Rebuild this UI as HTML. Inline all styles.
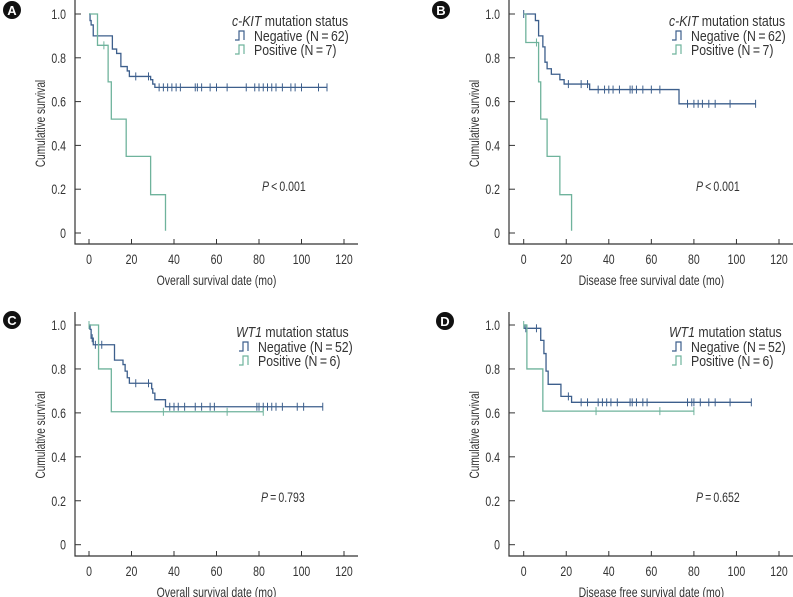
<!DOCTYPE html>
<html><head><meta charset="utf-8">
<style>
html,body{margin:0;padding:0;background:#fff;}
svg{display:block;font-family:"Liberation Sans",sans-serif;}
</style></head>
<body>
<svg id="fig" width="793" height="597" viewBox="0 0 793 597"></svg>
<script>
// ---- data ----
const xTicks = [0,20,40,60,80,100,120];
const yTicks = [0,0.2,0.4,0.6,0.8,1.0];
const yTickLabels = ["0","0.2","0.4","0.6","0.8","1.0"];

const aNegTimes = [0.5,1,2,11,13,15,18,19,29,30,31];
const aNegSurv  = [0.97,0.95,0.90,0.84,0.82,0.76,0.74,0.715,0.70,0.68,0.665];
const aNegCens  = [4,22,28,33,35,37,39,41,43,50,51,53,57,60,65,74,78,80,82,84,86,88,91,95,97,100,108,112];
const aNegEnd = 112;
const aPosTimes = [4,9,10.5,17.5,29,36];
const aPosSurv  = [0.857,0.69,0.52,0.35,0.175,0.01];
const aPosCens  = [7];
const aPosEnd = 36;

const bNegTimes = [5.5,7,9,10,11,13,17,19,31,73];
const bNegSurv  = [0.97,0.90,0.85,0.78,0.75,0.725,0.70,0.68,0.655,0.59];
const bNegCens  = [0,21,27,30,35,38,40,42,45,50,51,53,56,60,64,77,80,82,84,87,90,97,109];
const bNegEnd = 109;
const bPosTimes = [1,7,8,11,17,22.5];
const bPosSurv  = [0.87,0.69,0.52,0.35,0.175,0.01];
const bPosCens  = [6];
const bPosEnd = 22.5;

const cNegTimes = [0.5,1,2,12,16,17,18,19,29.5,30,31,36];
const cNegSurv  = [0.98,0.94,0.91,0.84,0.82,0.79,0.76,0.735,0.71,0.69,0.66,0.628];
const cNegCens  = [1.5,3,6,22,28,38,40,42,45,50,53,57,59,79,80,82,84,86,88,91,98,101,110];
const cNegEnd = 110;
const cPosTimes = [4.5,10.5];
const cPosSurv  = [0.80,0.605];
const cPosCens  = [0,35,65,82];
const cPosEnd = 82;

const dNegTimes = [0.2,8,9.5,10.5,11.5,17.5,22.5];
const dNegSurv  = [0.985,0.93,0.87,0.79,0.73,0.675,0.648];
const dNegCens  = [1,6,21,27,30,35,37,39,41,44,50,51,53,56,58,77,79,80,83,87,90,97,107];
const dNegEnd = 107;
const dPosTimes = [1.5,9];
const dPosSurv  = [0.80,0.608];
const dPosCens  = [0,34,64,80];
const dPosEnd = 80;

const NEG = "#3d5f8c", POS = "#6fb39c";
const svg = document.getElementById('fig');
const NS = "http://www.w3.org/2000/svg";
function mk(tag, attrs, parent){const e=document.createElementNS(NS,tag);for(const k in attrs)e.setAttribute(k,attrs[k]);(parent||svg).appendChild(e);return e;}
function txt(parent, x, y, anchor, rot, fs, sx){
  fs = fs || 13.5; sx = sx || 0.78;
  const tr = `translate(${x},${y})` + (rot ? ` rotate(${rot})` : '') + ` scale(${sx},1)`;
  return mk('text',{x:0,y:0,transform:tr,"text-anchor":anchor,"font-size":fs,fill:"#333"},parent);
}

function survAt(times, surv, t){let s=1;for(let i=0;i<times.length;i++){if(times[i]<=t)s=surv[i];}return s;}

function panel(p){
  const g = mk('g',{});
  
  
  const xs = v => p.ox + v*(p.x120-p.ox)/120;
  const ys = v => p.y0 - v*(p.y0-p.y1);
  const ax = mk('path',{d:`M${p.left} ${p.ytop} V${p.bottom} H${p.right}`,stroke:"#333",fill:"none","stroke-width":1.2},g);
  
  
  yTicks.forEach((v,i)=>{
    mk('line',{x1:p.left,x2:p.left+6,y1:ys(v),y2:ys(v),stroke:"#333","stroke-width":1},g);
    const t = txt(g, p.left-9, ys(v)+5, "end");
    t.textContent = yTickLabels[i];
    
    
  });
  xTicks.forEach(v=>{
    mk('line',{x1:xs(v),x2:xs(v),y1:p.bottom,y2:p.bottom-5,stroke:"#333","stroke-width":1},g);
    const t = txt(g, xs(v), p.bottom+20, "middle");
    t.textContent = v;
    
    
  });
  const yt = txt(g, p.left-35+5, (p.y0+p.y1)/2, "middle", -90, 14, 0.72);
  yt.textContent = "Cumulative survival";
  
  
  const xt = txt(g, (p.ox+p.x120)/2, p.bottom+41, "middle");
  xt.textContent = p.xtitle;
  
  
  p.series.forEach(s=>{
    let d = `M${xs(0)} ${ys(1)}`;
    s.times.forEach((t,i)=>{d+=` H${xs(t)} V${ys(s.surv[i])}`;});
    d += ` H${xs(s.end)}`;
    const path = mk('path',{d,stroke:s.color,fill:"none","stroke-width":1.3},g);
    
    
    s.cens.forEach(c=>{
      const v = survAt(s.times,s.surv,c);
      const m = mk('line',{x1:xs(c),x2:xs(c),y1:ys(v)-4,y2:ys(v)+4,stroke:s.color,"stroke-width":1},g);
      
      
    });
  });
  const lg = mk('g',{},g);
  
  
  const lt = txt(lg, p.lx, p.ly, "start", 0, 15, 0.82);
  lt.innerHTML = `<tspan font-style="italic">${p.gene}</tspan> mutation status`;
  [["Negative (N\u2009=\u2009" + p.nNeg + ")",NEG],["Positive (N\u2009=\u2009" + p.nPos + ")",POS]].forEach((e,i)=>{
    const yy = p.ly + 14*(i+1);
    const sx = p.lx+3;
    mk('path',{d:`M${sx} ${yy} H${sx+4} V${yy-9} H${sx+9} V${yy}`,stroke:e[1],fill:"none","stroke-width":1.2},lg);
    const et = txt(lg, p.lx+22, yy+1, "start", 0, 15, 0.82);
    et.textContent = e[0];
    
    
  });
  const pt = txt(g, p.px, p.py, "start");
  pt.innerHTML = `<tspan font-style="italic">P</tspan>${p.pval}`;
  
  
  const bc = mk('circle',{cx:p.bx,cy:p.by,r:9,fill:"#111"},g);
  
  
  const bt = mk('text',{x:p.bx,y:p.by+5,"text-anchor":"middle","font-size":13,"font-weight":"bold",fill:"#fff"},g);
  bt.textContent = p.id.toUpperCase();
}

const TOPROW = {y1:14,y0:233,ytop:0,bottom:244};
const BOTROW = {y1:325,y0:544.7,ytop:312,bottom:556};
const LCOL = {ox:89,x120:344,left:75,right:358};
const RCOL = {ox:523.7,x120:779,left:509,right:793};

panel(Object.assign({id:'a',xtitle:"Overall survival date (mo)",gene:"c-KIT",nNeg:62,nPos:7,lx:232,ly:26,px:262,py:191,pval:"\u2009<\u20090.001",bx:12,by:10,
  series:[{name:'negative',times:aNegTimes,surv:aNegSurv,cens:aNegCens,end:aNegEnd,color:NEG},{name:'positive',times:aPosTimes,surv:aPosSurv,cens:aPosCens,end:aPosEnd,color:POS}]},LCOL,TOPROW));
panel(Object.assign({id:'b',xtitle:"Disease free survival date (mo)",gene:"c-KIT",nNeg:62,nPos:7,lx:669,ly:26,px:696,py:191,pval:"\u2009<\u20090.001",bx:441,by:10,
  series:[{name:'negative',times:bNegTimes,surv:bNegSurv,cens:bNegCens,end:bNegEnd,color:NEG},{name:'positive',times:bPosTimes,surv:bPosSurv,cens:bPosCens,end:bPosEnd,color:POS}]},RCOL,TOPROW));
panel(Object.assign({id:'c',xtitle:"Overall survival date (mo)",gene:"WT1",nNeg:52,nPos:6,lx:236,ly:337,px:261,py:502,pval:"\u2009=\u20090.793",bx:12,by:320,
  series:[{name:'negative',times:cNegTimes,surv:cNegSurv,cens:cNegCens,end:cNegEnd,color:NEG},{name:'positive',times:cPosTimes,surv:cPosSurv,cens:cPosCens,end:cPosEnd,color:POS}]},LCOL,BOTROW));
panel(Object.assign({id:'d',xtitle:"Disease free survival date (mo)",gene:"WT1",nNeg:52,nPos:6,lx:669,ly:337,px:696,py:502,pval:"\u2009=\u20090.652",bx:445,by:321,
  series:[{name:'negative',times:dNegTimes,surv:dNegSurv,cens:dNegCens,end:dNegEnd,color:NEG},{name:'positive',times:dPosTimes,surv:dPosSurv,cens:dPosCens,end:dPosEnd,color:POS}]},RCOL,BOTROW));
</script>
</body></html>
